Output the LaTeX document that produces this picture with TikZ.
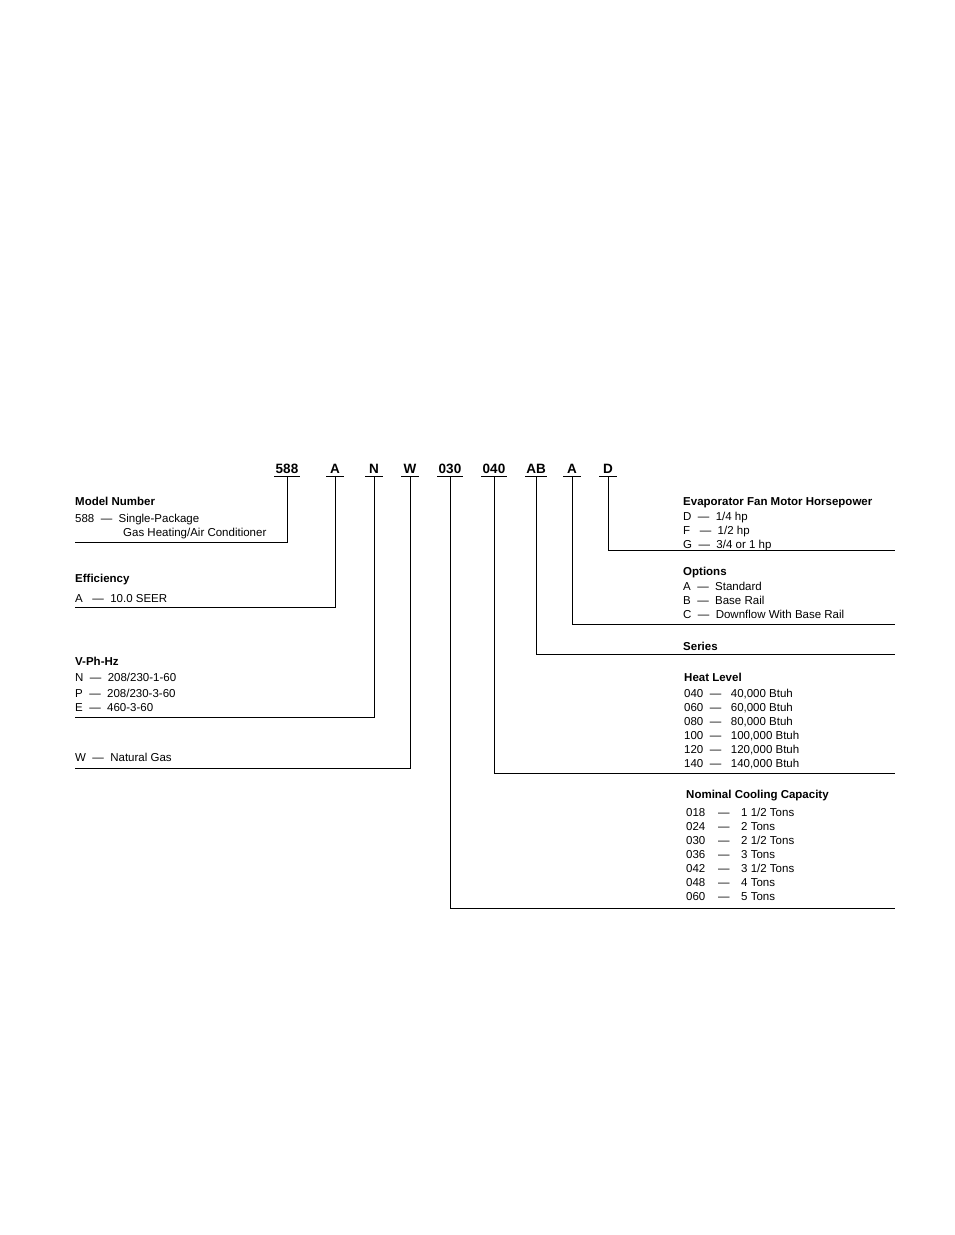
\documentclass[tikz,border=0pt]{standalone}
\usepackage{fontspec}
\setmainfont{Liberation Sans}
\begin{document}
\begin{tikzpicture}[x=1pt,y=-1pt,
  code/.style={font=\fontsize{13.5}{14}\selectfont\bfseries,inner sep=0pt},
  head/.style={font=\fontsize{11.5}{12}\selectfont\bfseries,anchor=base west,inner sep=0pt},
  txt/.style={font=\fontsize{11.5}{12}\selectfont,anchor=base west,inner sep=0pt},
  ln/.style={line width=0.8pt}]
\useasboundingbox (0,0) rectangle (954,1235);
% codes
\foreach \n/\t/\x/\w in {c1/588/287/26,c2/A/335/18,c3/N/374/18,c4/W/410/18,c5/030/450/26,c6/040/494/26,c7/AB/536/22,c8/A/572/18,c9/D/608/18}{
  \node[code,anchor=base] (\n) at (\x,473) {\t};
  \draw[ln] (\x-\w/2,476.5) -- (\x+\w/2,476.5);
  \coordinate (\n t) at (\x,476.5);
}
\coordinate (e1) at (75,542); \coordinate (e2) at (75,607);
\coordinate (e3) at (75,717); \coordinate (e4) at (75,768);
\coordinate (e5) at (895,908); \coordinate (e6) at (895,773);
\coordinate (e7) at (895,654); \coordinate (e8) at (895,624);
\coordinate (e9) at (895,550);
\draw[ln] (c1t) |- (e1);
\draw[ln] (c2t) |- (e2);
\draw[ln] (c3t) |- (e3);
\draw[ln] (c4t) |- (e4);
\draw[ln] (c5t) |- (e5);
\draw[ln] (c6t) |- (e6);
\draw[ln] (c7t) |- (e7);
\draw[ln] (c8t) |- (e8);
\draw[ln] (c9t) |- (e9);
% left texts (baseline = center + 4)
\node[head] (h1) at (75,505) {Model Number};
\node[txt] (t11) at (75,522) {588 \ — \ Single-Package};
\node[txt] (t12) at (123,536) {Gas Heating/Air Conditioner};
\node[head] (h2) at (75,582) {Efficiency};
\node[txt] (t21) at (75,602) {A \ \ — \ 10.0 SEER};
\node[head] (h3) at (75,665) {V-Ph-Hz};
\node[txt] (t31) at (75,681) {N \ — \ 208/230-1-60};
\node[txt] (t32) at (75,697) {P \ — \ 208/230-3-60};
\node[txt] (t33) at (75,711) {E \ — \ 460-3-60};
\node[txt] (t41) at (75,761) {W \ — \ Natural Gas};
% right texts
\node[head] (h5) at (683,505) {Evaporator Fan Motor Horsepower};
\node[txt] (t51) at (683,520) {D \ — \ 1/4 hp};
\node[txt] (t52) at (683,534) {F \ \ — \ 1/2 hp};
\node[txt] (t53) at (683,548) {G \ — \ 3/4 or 1 hp};
\node[head] (h6) at (683,575) {Options};
\node[txt] (t61) at (683,590) {A \ — \ Standard};
\node[txt] (t62) at (683,604) {B \ — \ Base Rail};
\node[txt] (t63) at (683,618) {C \ — \ Downflow With Base Rail};
\node[head] (h7) at (683,650) {Series};
\node[head] (h8) at (684,681) {Heat Level};
\foreach \c/\d [count=\i from 0] in {040/40,060/60,080/80,100/100,120/120,140/140}{
  \node[txt] (hl\i) at (684,697+14*\i) {\c \ \ — \ \ \d,000 Btuh};
}
\node[head] (h9) at (686,798) {Nominal Cooling Capacity};
\foreach \c/\d [count=\i from 0] in {018/{1 1/2},024/2,030/{2 1/2},036/3,042/{3 1/2},048/4,060/5}{
  \node[txt] (cc\i) at (686,816+14*\i) {\c};
  \node[txt] (cd\i) at (718,816+14*\i) {—};
  \node[txt] (ct\i) at (741,816+14*\i) {\d\ Tons};
}
\end{tikzpicture}
\end{document}
